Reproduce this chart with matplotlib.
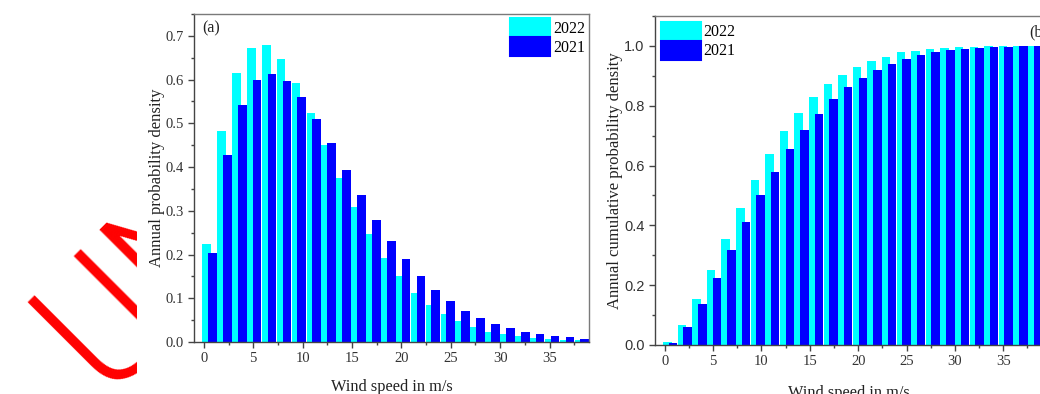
import numpy as np
import matplotlib
matplotlib.use('Agg')
import matplotlib.pyplot as plt
from matplotlib.patches import Patch
from matplotlib.ticker import MultipleLocator

# wind speed bins (m/s), 26 bins of about 1.5 m/s
bin_start = np.arange(26) * 1.508

# annual probability density, panel (a)
pdf_2022 = [0.224, 0.483, 0.616, 0.673, 0.678, 0.647, 0.592, 0.523, 0.450, 0.376,
            0.308, 0.247, 0.193, 0.150, 0.113, 0.085, 0.063, 0.047, 0.034, 0.024,
            0.018, 0.013, 0.009, 0.007, 0.005, 0.004]
pdf_2021 = [0.203, 0.427, 0.541, 0.598, 0.612, 0.597, 0.561, 0.511, 0.454, 0.394,
            0.336, 0.280, 0.231, 0.189, 0.150, 0.119, 0.093, 0.072, 0.055, 0.041,
            0.031, 0.024, 0.018, 0.014, 0.011, 0.008]

# annual cumulative probability, panel (b)
cdf_2022 = [0.011, 0.067, 0.153, 0.252, 0.356, 0.459, 0.552, 0.639, 0.714, 0.776,
            0.829, 0.871, 0.904, 0.931, 0.949, 0.964, 0.978, 0.983, 0.989, 0.993,
            0.997, 0.998, 0.999, 1.000, 1.000, 1.000]
cdf_2021 = [0.008, 0.059, 0.136, 0.224, 0.318, 0.411, 0.500, 0.580, 0.654, 0.720,
            0.774, 0.823, 0.862, 0.894, 0.920, 0.940, 0.956, 0.969, 0.978, 0.986,
            0.989, 0.993, 0.996, 0.998, 0.999, 1.000]

years = ['2022', '2021']
colors = ['#00ffff', '#0000ff']

SERIF = 'Liberation Serif'
SANS = 'Liberation Sans'

fig = plt.figure(figsize=(10.4, 3.94), dpi=100)

W, H = 1040, 394


def px_axes(left, top, right, bottom):
    return fig.add_axes([left / W, 1 - bottom / H, (right - left) / W, (bottom - top) / H])


def style_axes(ax, ymajor, yminor, ytick_family):
    ax.set_xlim(-1, 39)
    ax.xaxis.set_major_locator(MultipleLocator(5))
    ax.xaxis.set_minor_locator(MultipleLocator(2.5))
    ax.yaxis.set_major_locator(MultipleLocator(ymajor))
    ax.yaxis.set_minor_locator(MultipleLocator(yminor))
    for side in ['left', 'bottom']:
        ax.spines[side].set_color('#444444')
        ax.spines[side].set_linewidth(1.0)
    for side in ['top', 'right']:
        ax.spines[side].set_color('#7a7a7a')
        ax.spines[side].set_linewidth(1.0)
    ax.tick_params(which='major', direction='out', length=4.5, width=1, color='#444444',
                   labelsize=10.5, labelcolor='#333333', pad=3)
    ax.tick_params(which='minor', direction='out', length=2.5, width=1, color='#444444')
    ax.tick_params(top=False, right=False, which='both')
    for lab in ax.get_xticklabels():
        lab.set_family(SERIF)
    for lab in ax.get_yticklabels():
        lab.set_family(ytick_family)


def draw_bars(ax, v2022, v2021):
    ax.bar(bin_start + 0.28, v2022, width=0.88, color=colors[0], linewidth=0)
    ax.bar(bin_start + 0.87, v2021, width=0.88, color=colors[1], linewidth=0)


handles = [Patch(facecolor=c, edgecolor=c, linewidth=1.5, joinstyle='round') for c in colors]
leg_kw = dict(frameon=False, handlelength=2.5, handleheight=1.45, labelspacing=0.0,
              handletextpad=0.2, borderpad=0.0, prop={'family': SERIF, 'size': 11.5})

# panel (a)
ax1 = px_axes(194, 14, 589, 342)
draw_bars(ax1, pdf_2022, pdf_2021)
ax1.set_ylim(0, 0.75)
style_axes(ax1, 0.1, 0.05, SERIF)
ax1.set_xlabel('Wind speed in m/s', family=SERIF, fontsize=11.8, color='#222222', labelpad=10)
ax1.set_ylabel('Annual probability density', family=SERIF, fontsize=12, color='#222222',
               labelpad=0.5)
ax1.text(0.022, 0.982, '(a)', transform=ax1.transAxes, ha='left', va='top',
         family=SERIF, fontsize=11.5, color='#222222')
ax1.legend(handles, years, loc='upper right', borderaxespad=0.25,
           bbox_to_anchor=(1.0, 1.0), **leg_kw)

# panel (b), runs past the right edge of the picture
ax2 = px_axes(655, 16, 1042, 345)
draw_bars(ax2, cdf_2022, cdf_2021)
ax2.set_ylim(0, 1.1)
style_axes(ax2, 0.2, 0.1, SANS)
ax2.set_xlabel('Wind speed in m/s', family=SERIF, fontsize=11.8, color='#222222', labelpad=12)
ax2.set_ylabel('Annual cumulative probability density', family=SERIF, fontsize=12,
               color='#222222', labelpad=1)
ax2.text(0.966, 0.975, '(b)', transform=ax2.transAxes, ha='left', va='top',
         family=SERIF, fontsize=11.5, color='#222222')
ax2.legend(handles, years, loc='upper left', borderaxespad=0.35,
           bbox_to_anchor=(0.0, 1.0), **leg_kw)

# red stamp on the left, cut off at the panel edge
axw = fig.add_axes([0, 0, 137 / W, 1])
axw.set_xlim(0, 137)
axw.set_ylim(H, 0)
axw.axis('off')
axw.text(104, 392, 'UNI', rotation=45, rotation_mode='anchor', ha='left', va='baseline',
         color='#ff0000', fontsize=128, family=['Roboto Condensed', 'Roboto', 'DejaVu Sans'],
         fontweight='light', fontstretch='condensed', clip_on=True)

fig.savefig('out.png', dpi=100)
